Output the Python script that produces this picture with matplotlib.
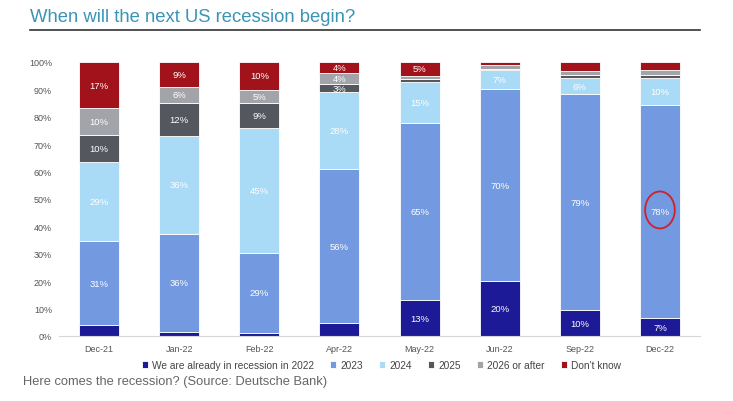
import matplotlib.pyplot as plt
from matplotlib.patches import Ellipse
import numpy as np

plt.rcParams['font.family'] = ['Liberation Sans', 'DejaVu Sans']

months = ['Dec-21', 'Jan-22', 'Feb-22', 'Apr-22', 'May-22', 'Jun-22', 'Sep-22', 'Dec-22']
series_names = ['We are already in recession in 2022', '2023', '2024', '2025',
                '2026 or after', "Don't know"]

# survey shares (%)
recession_2022 = [4, 1.5, 1.2, 4.6, 13, 20, 9.5, 6.5]
y2023 = [31, 36, 29, 56, 65, 70, 79, 78]
y2024 = [29, 36, 45, 28, 15, 7, 6, 10]
y2025 = [10, 12, 9, 3, 1, 0.6, 1, 1]
y2026 = [10, 6, 5, 4, 1.3, 1.4, 1.6, 2]
dont_know = [17, 9, 10, 4, 5, 1, 3.3, 2.8]

# which segments carry a label in the original
rec_labels = ['', '', '', '', '13%', '20%', '10%', '7%']
y2023_labels = ['31%', '36%', '29%', '56%', '65%', '70%', '79%', '78%']
y2024_labels = ['29%', '36%', '45%', '28%', '15%', '7%', '6%', '10%']
y2025_labels = ['10%', '12%', '9%', '3%', '', '', '', '']
y2026_labels = ['10%', '6%', '5%', '4%', '', '', '', '']
dk_labels = ['17%', '9%', '10%', '4%', '5%', '', '', '']

colors = ['#1c1a97', '#7399e0', '#a9daf6', '#55575f', '#a3a3aa', '#a1121a']

data = np.array([recession_2022, y2023, y2024, y2025, y2026, dont_know], dtype=float)
data = data / data.sum(axis=0) * 100
labels = [rec_labels, y2023_labels, y2024_labels, y2025_labels, y2026_labels, dk_labels]

fig = plt.figure(figsize=(7.33, 4.02), dpi=100)
ax = fig.add_axes([59 / 733, 65 / 402, 641 / 733, 274 / 402])

x = np.arange(len(months))
bottom = np.zeros(len(months))
for k in range(len(series_names)):
    ax.bar(x, data[k], 0.5, bottom=bottom, color=colors[k], label=series_names[k],
           edgecolor='white', linewidth=0.6)
    for i in range(len(months)):
        if labels[k][i]:
            ax.text(x[i], bottom[i] + data[k][i] / 2, labels[k][i], ha='center', va='center',
                    color='white', fontsize=6.8)
    bottom += data[k]

# red circle around the Dec-22 2023 share
ax.add_patch(Ellipse((7, 46), 0.37, 13.5, fill=False, edgecolor='#d0202a', linewidth=1.3))

ax.set_xlim(-0.5, 7.5)
ax.set_ylim(0, 100)
ax.set_xticks(x)
ax.set_xticklabels(months)
ax.set_yticks(np.arange(0, 101, 10))
ax.set_yticklabels([f'{v}%' for v in range(0, 101, 10)])
ax.tick_params(axis='both', length=0, labelsize=6.5, labelcolor='#555555')
ax.tick_params(axis='y', pad=5)
ax.tick_params(axis='x', pad=5.5)
for s in ['top', 'right', 'left']:
    ax.spines[s].set_visible(False)
ax.spines['bottom'].set_color('#d8d8d8')

ax.legend(loc='upper center', bbox_to_anchor=(0.503, -0.055), ncol=6, frameon=False,
          fontsize=7.3, handlelength=0.6, handleheight=0.6, handletextpad=0.4,
          columnspacing=1.6, labelcolor='#444444')

fig.text(30 / 733, 1 - 18 / 402, 'When will the next US recession begin?', color='#3a94b5',
         fontsize=13.3, va='center', ha='left')
fig.add_artist(plt.Line2D([30 / 733, 700 / 733], [1 - 31 / 402, 1 - 31 / 402],
                          color='#333333', linewidth=1.2))
fig.text(23 / 733, 1 - 382 / 402, 'Here comes the recession? (Source: Deutsche Bank)',
         color='#666666', fontsize=9.3, va='center', ha='left')

fig.savefig('out.png', dpi=100)
